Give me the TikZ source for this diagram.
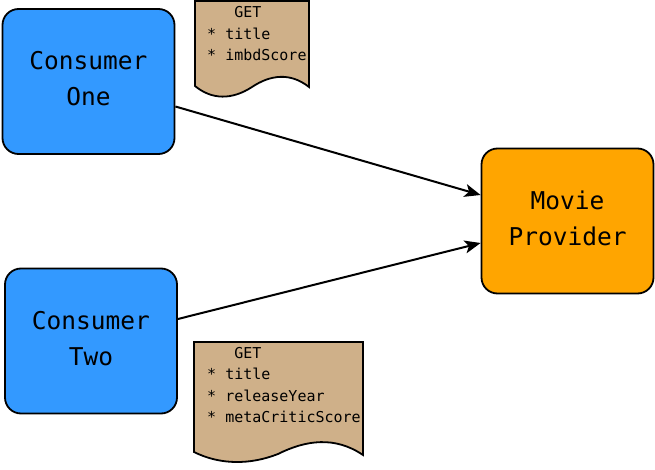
\documentclass[tikz,border=0pt]{standalone}
\usepackage{fontspec}
\setmonofont{DejaVu Sans Mono}
\usepackage{tikz}
\usetikzlibrary{arrows.meta}
\definecolor{consumerblue}{RGB}{51,153,255}
\definecolor{provorange}{RGB}{255,165,0}
\definecolor{doctan}{RGB}{207,176,137}

\begin{document}
\begin{tikzpicture}[x=1pt, y=-1pt,
    box/.style={draw, line width=1.8pt, rounded corners=16pt, minimum width=172pt, minimum height=145pt, align=center, text depth=6pt, font=\ttfamily\fontsize{24.5}{36}\selectfont},
    doc/.style={draw, line width=1.8pt, fill=doctan},
    doctext/.style={anchor=base west, inner sep=0pt, align=left, font=\ttfamily\fontsize{15}{21.5}\selectfont},
    link/.style={line width=2pt, -{Stealth[length=16pt, width=13pt, inset=4pt]}}]
        \useasboundingbox (0,0) rectangle (655,470);
        % the three services
        \node [box, fill=consumerblue] (1) at (88.5,81.5) {Consumer\\One};
        \node [box, fill=consumerblue] (2) at (91,341) {Consumer\\Two};
        \node [box, fill=provorange] (3) at (567.5,221) {Movie\\Provider};
        % requested fields
        \draw [doc] (195,1) -- (309,1) -- (309,87) .. controls (290,72) and (270,75) .. (252,87)
              .. controls (232,100) and (212,100) .. (195,86) -- cycle;
        \draw [doc] (194,342) -- (363,342) -- (363,455) .. controls (335,436) and (306,440) .. (278,454)
              .. controls (250,465) and (220,465) .. (194,452) -- cycle;
        \node [doctext] (4) at (207,61) {\hphantom{***}GET\\* title\\* imbdScore};
        \node [doctext] (5) at (207,422.5) {\hphantom{***}GET\\* title\\* releaseYear\\* metaCriticScore};
        \draw [link] ([yshift=-25pt]1.east) to ([yshift=26pt]3.west);
        \draw [link] ([yshift=22pt]2.east) to ([yshift=-22pt]3.west);
      \end{tikzpicture}
\end{document}
